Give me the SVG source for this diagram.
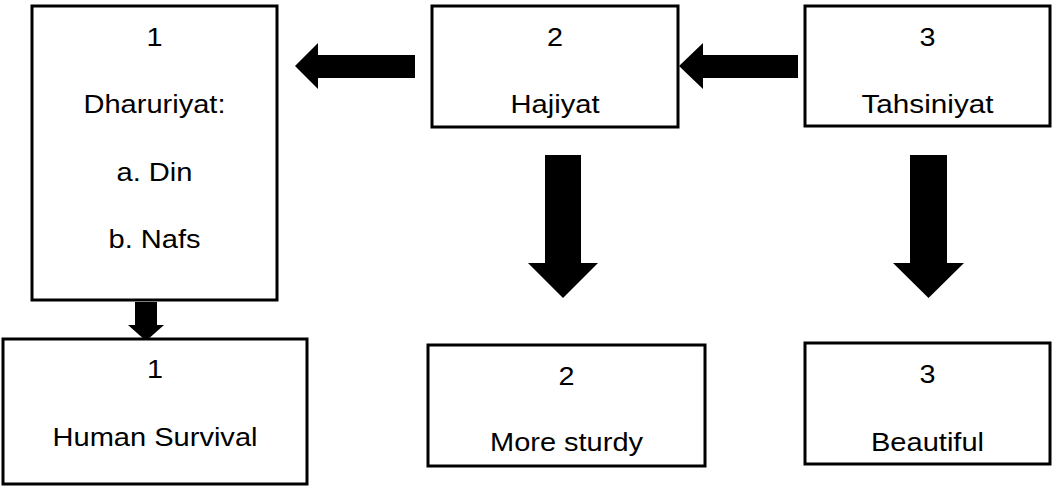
<svg xmlns="http://www.w3.org/2000/svg" width="1052" height="486" viewBox="0 0 1052 486">
<style>
.box{fill:#fff;stroke:#000;stroke-width:3}
.t{font-family:"Liberation Sans",Arial,sans-serif;font-size:25px;fill:#000;text-anchor:middle}
.arr{fill:#000;stroke:none}
</style>
<rect width="1052" height="486" fill="#fff"/>
<g id="connectors">
<polygon class="arr" points="415,55 318,55 318,43 295,66 318,89 318,78 415,78"/>
<polygon class="arr" points="798,55 703,55 703,43 679,66 703,89 703,78 798,78"/>
<polygon class="arr" points="135,302 157,302 157,325 164,325 146,341 128,325 135,325"/>
<polygon class="arr" points="545,155 581,155 581,263 598,263 563,298 528,263 545,263"/>
<polygon class="arr" points="910,155 947,155 947,263 964,263 928.5,298 893,263 910,263"/>
</g>
<g id="node-dharuriyat">
<rect class="box" x="32" y="6" width="245" height="294"/>
<text class="t" x="154.5" y="46" textLength="16" lengthAdjust="spacingAndGlyphs">1</text>
<text class="t" x="154.5" y="113" textLength="142" lengthAdjust="spacingAndGlyphs">Dharuriyat:</text>
<text class="t" x="154.5" y="181" textLength="76" lengthAdjust="spacingAndGlyphs">a. Din</text>
<text class="t" x="154.5" y="248" textLength="92" lengthAdjust="spacingAndGlyphs">b. Nafs</text>
</g>
<g id="node-hajiyat">
<rect class="box" x="432" y="6" width="246" height="121"/>
<text class="t" x="555" y="46" textLength="16" lengthAdjust="spacingAndGlyphs">2</text>
<text class="t" x="555" y="113" textLength="89" lengthAdjust="spacingAndGlyphs">Hajiyat</text>
</g>
<g id="node-tahsiniyat">
<rect class="box" x="805" y="6" width="245" height="120"/>
<text class="t" x="927.5" y="46" textLength="16" lengthAdjust="spacingAndGlyphs">3</text>
<text class="t" x="927.5" y="113" textLength="132" lengthAdjust="spacingAndGlyphs">Tahsiniyat</text>
</g>
<g id="node-human-survival">
<rect class="box" x="3" y="339" width="304" height="145"/>
<text class="t" x="155" y="378" textLength="16" lengthAdjust="spacingAndGlyphs">1</text>
<text class="t" x="155" y="446" textLength="205" lengthAdjust="spacingAndGlyphs">Human Survival</text>
</g>
<g id="node-more-sturdy">
<rect class="box" x="428" y="345" width="277" height="121"/>
<text class="t" x="566.5" y="385" textLength="16" lengthAdjust="spacingAndGlyphs">2</text>
<text class="t" x="566.5" y="451" textLength="153" lengthAdjust="spacingAndGlyphs">More sturdy</text>
</g>
<g id="node-beautiful">
<rect class="box" x="805" y="343" width="245" height="121"/>
<text class="t" x="927.5" y="383" textLength="16" lengthAdjust="spacingAndGlyphs">3</text>
<text class="t" x="927.5" y="451" textLength="113" lengthAdjust="spacingAndGlyphs">Beautiful</text>
</g>
</svg>
